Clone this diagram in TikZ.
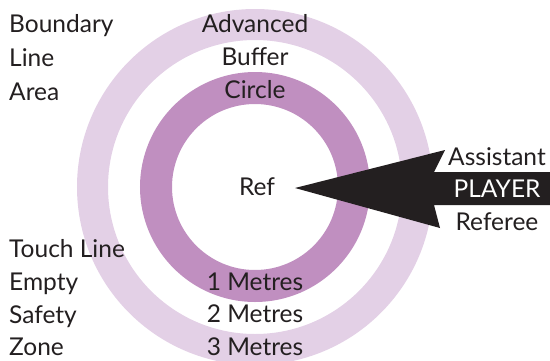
\documentclass[tikz,border=0pt]{standalone}
\usepackage{fontspec}
\setmainfont{Lato}
\definecolor{txt}{HTML}{231F20}
\definecolor{ringin}{HTML}{C08FC0}
\definecolor{ringout}{HTML}{E3D0E6}
\begin{document}
\begin{tikzpicture}[x=1pt,y=-1pt,
  lbl/.style={font=\fontsize{24.5}{24.5}\selectfont, text=txt, inner sep=0pt},
  lw/.style={lbl, anchor=base west},
  lc/.style={lbl, anchor=base}]
\useasboundingbox (0,0) rectangle (550,360);
\coordinate (c) at (255,187);
% rings
\draw[ringout, line width=31pt] (c) circle[radius=162.5];
\draw[ringin, line width=32pt] (c) circle[radius=99];
% arrow
\fill[txt] (295,188) -- (445,150) -- (434,172) -- (550,172) -- (550,205) -- (434,205) -- (440,228) -- cycle;
% left labels
\node[lw] (b1) at (9,32) {Boundary};
\node[lw] (b2) at (9,66) {Line};
\node[lw] (b3) at (9,100) {Area};
\node[lw] (t1) at (9,257) {Touch Line};
\node[lw] (t2) at (9,290) {Empty};
\node[lw] (t3) at (9,323) {Safety};
\node[lw] (t4) at (9,355) {Zone};
% center labels
\node[lc] (a1) at (255,32) {Advanced};
\node[lc] (a2) at (255,65) {Buffer};
\node[lc] (a3) at (255,98) {Circle};
\node[lc] (ref) at (257,195) {Ref};
\node[lc] (m1) at (255,290) {1 Metres};
\node[lc] (m2) at (255,322) {2 Metres};
\node[lc] (m3) at (255,355) {3 Metres};
% right labels
\node[lc] (r1) at (497,165) {Assistant};
\node[lc, text=white] (r2) at (497,197) {PLAYER};
\node[lc] (r3) at (497,230) {Referee};
\end{tikzpicture}
\end{document}
